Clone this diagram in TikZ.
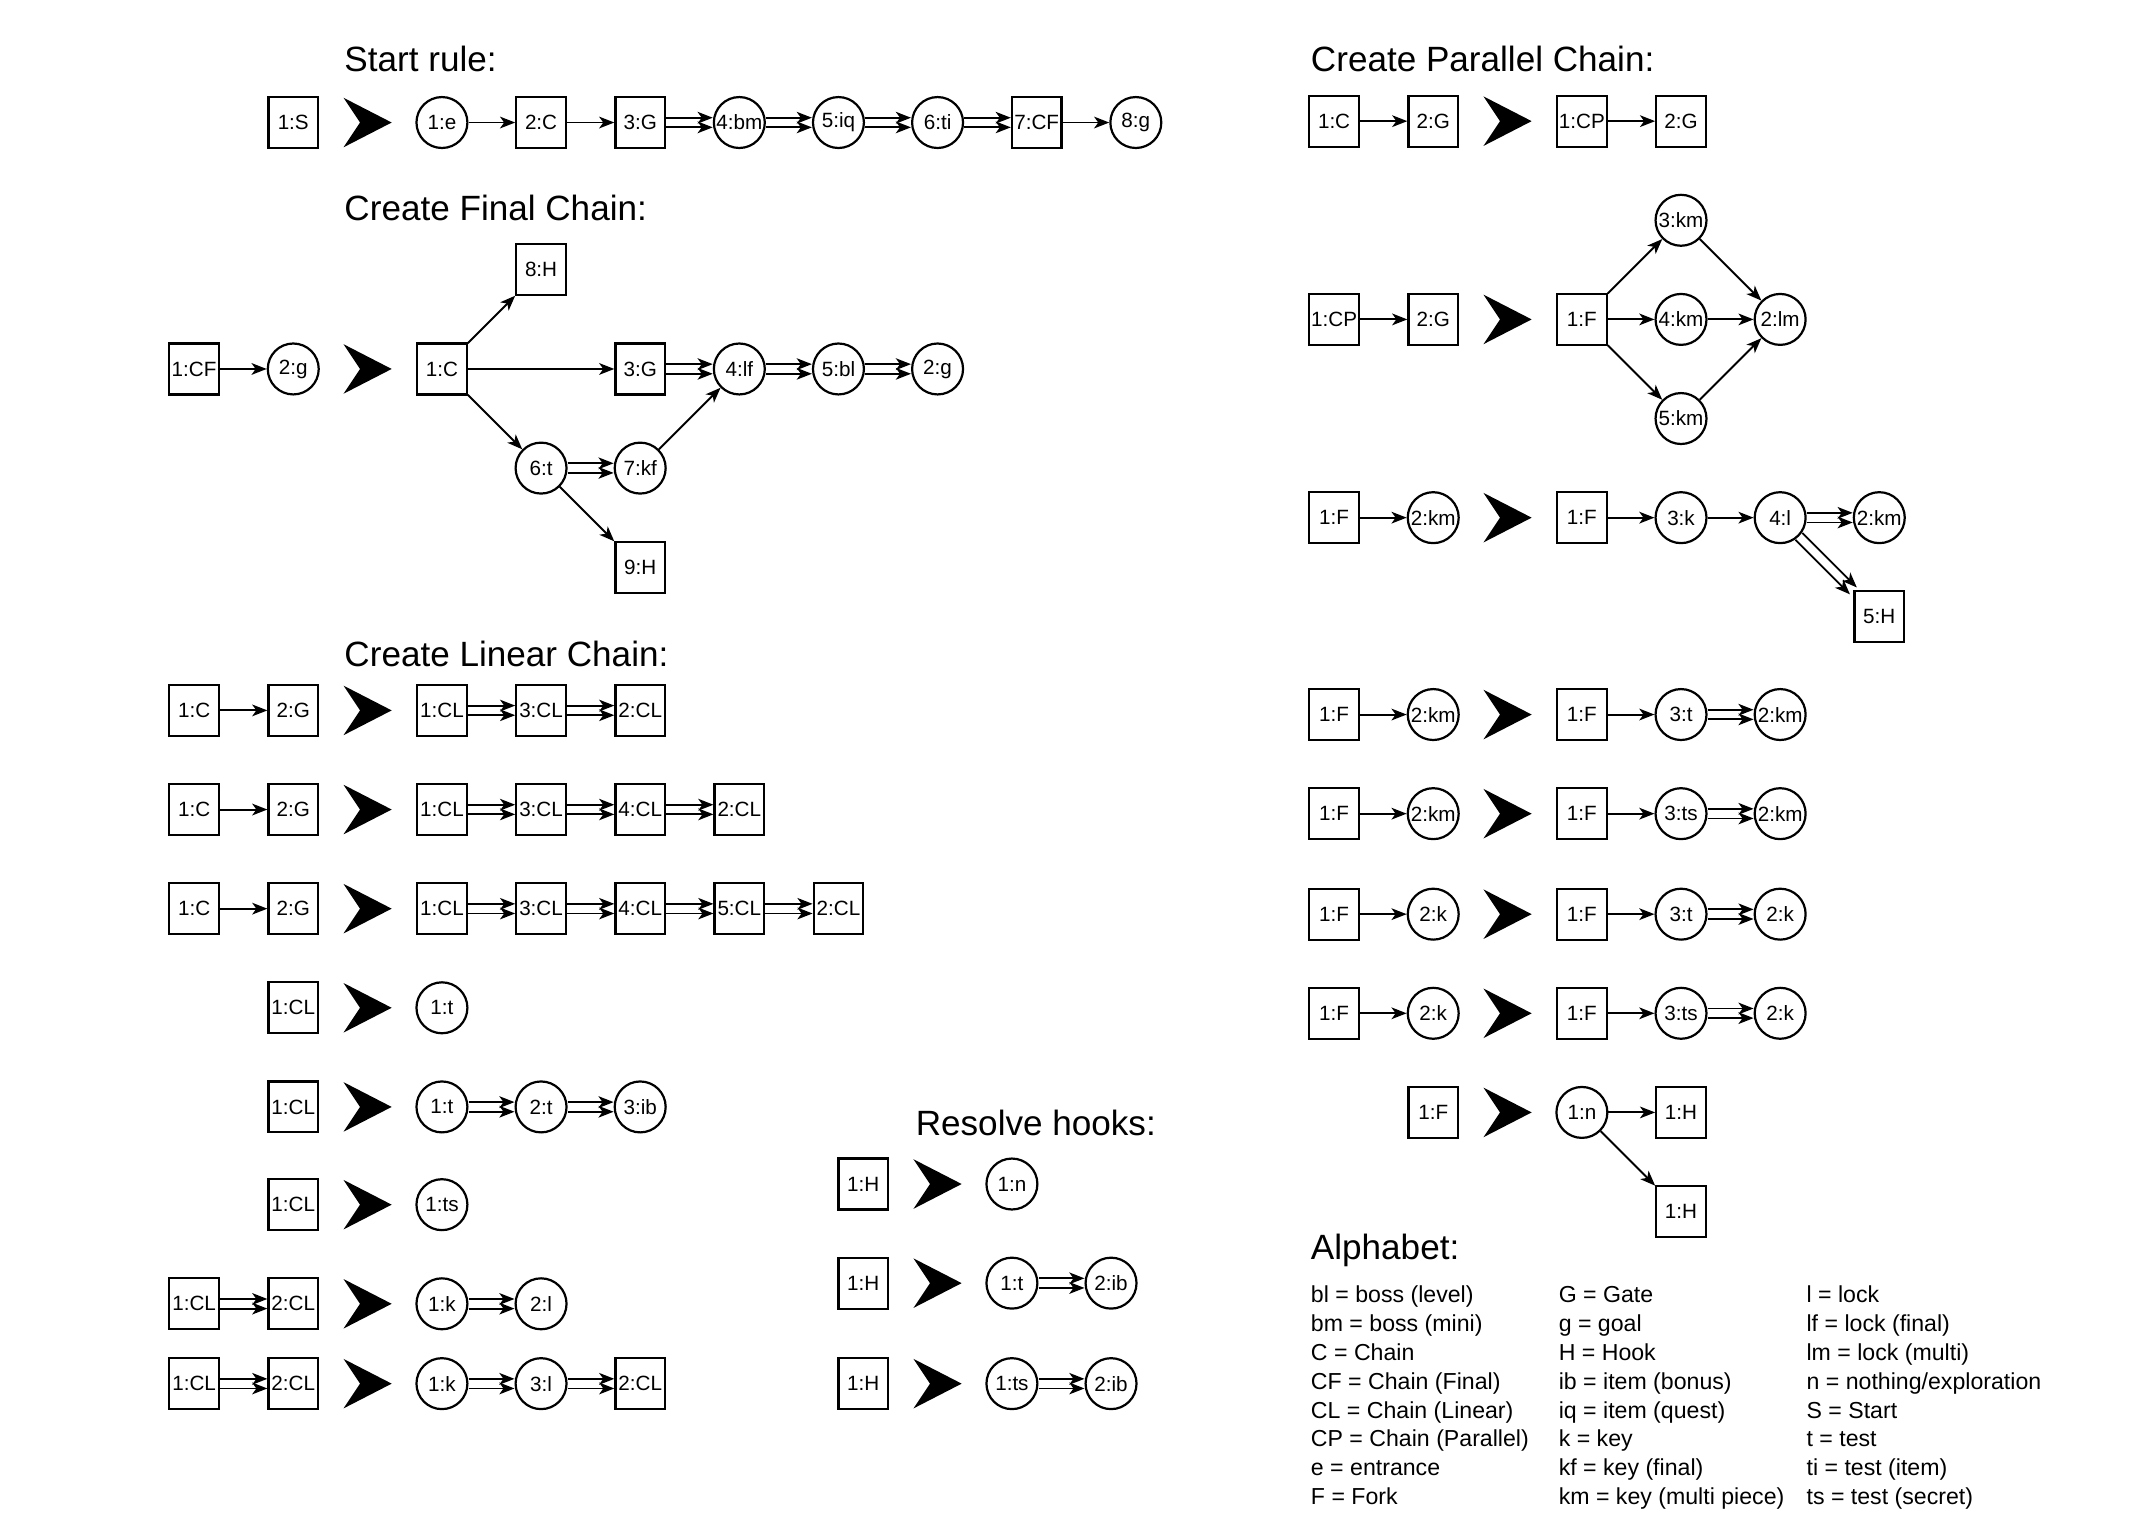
\documentclass[tikz,border=0pt]{standalone}
\usepackage{fontspec}
\setmainfont{Liberation Sans}
\usetikzlibrary{arrows.meta,calc}

% double connector: two parallel arrows
\newcommand{\twin}[2]{%
  \draw[link,transform canvas={yshift=3.5pt}] (#1) -- (#2);
  \draw[link,transform canvas={yshift=-3.5pt}] (#1) -- (#2);}

\begin{document}
\begin{tikzpicture}[x=1pt, y=-1pt,
  nonterm/.style={draw, line width=1.6pt, minimum width=36pt, minimum height=37pt, inner sep=0pt, font=\fontsize{15}{17}\selectfont},
  term/.style={draw, circle, line width=1.6pt, minimum size=37pt, inner sep=0pt, font=\fontsize{15}{17}\selectfont},
  link/.style={line width=1.4pt, -{Stealth[length=11pt,width=8.5pt,inset=3pt]}},
  heading/.style={anchor=base west, inner sep=0pt, font=\fontsize{25.5}{30}\selectfont},
  legend/.style={anchor=base west, inner sep=0pt, font=\fontsize{16.8}{20}\selectfont},
  rulearrow/.pic={\fill (-17.5,-18) -- (17.5,0) -- (-17.5,18) -- (-5.5,0) -- cycle;}]

\useasboundingbox[fill=white] (0,0) rectangle (1566,1104.8);

% Start rule
\node[heading] (StartTitle) at (250,52) {Start rule:};
\node[nonterm] (SrS) at (213,89) {1:S};
\pic at (267,89) {rulearrow};
\node[term] (Sre) at (321,89) {1:e};
\node[nonterm] (SrC) at (393,89) {2:C};
\node[nonterm] (SrG) at (465,89) {3:G};
\node[term] (Srbm) at (537,89) {4:bm};
\node[term] (Sriq) at (609,89) {5:iq};
\node[term] (Srti) at (681,89) {6:ti};
\node[nonterm] (SrCF) at (753,89) {7:CF};
\node[term] (Srg) at (825,89) {8:g};
\draw[link] (Sre) -- (SrC);
\draw[link] (SrC) -- (SrG);
\twin{SrG}{Srbm}
\twin{Srbm}{Sriq}
\twin{Sriq}{Srti}
\twin{Srti}{SrCF}
\draw[link] (SrCF) -- (Srg);

% Create final chain
\node[heading] (FinalTitle) at (250,160) {Create Final Chain:};
\node[nonterm] (FcCF) at (141,268) {1:CF};
\node[term] (Fcg) at (213,268) {2:g};
\draw[link] (FcCF) -- (Fcg);
\pic at (267,268) {rulearrow};
\node[nonterm] (FcC) at (321,268) {1:C};
\node[nonterm] (FcHa) at (393,196) {8:H};
\node[nonterm] (FcG) at (465,268) {3:G};
\node[term] (Fclf) at (537,268) {4:lf};
\node[term] (Fcbl) at (609,268) {5:bl};
\node[term] (Fcgb) at (681,268) {2:g};
\node[term] (Fct) at (393,340) {6:t};
\node[term] (Fckf) at (465,340) {7:kf};
\node[nonterm] (FcHb) at (465,412) {9:H};
\draw[link] (FcC) -- (FcHa);
\draw[link] (FcC) -- (FcG);
\draw[link] (FcC) -- (Fct);
\twin{FcG}{Fclf}
\twin{Fclf}{Fcbl}
\twin{Fcbl}{Fcgb}
\twin{Fct}{Fckf}
\draw[link] (Fckf) -- (Fclf);
\draw[link] (Fct) -- (FcHb);

% Create linear chain
\node[heading] (LinearTitle) at (250,484) {Create Linear Chain:};
\foreach \y/\r in {516/a,588/b,660/c} {
  \node[nonterm] (L\r C) at (141,\y) {1:C};
  \node[nonterm] (L\r G) at (213,\y) {2:G};
  \draw[link] (L\r C) -- (L\r G);
  \pic at (267,\y) {rulearrow};
  \node[nonterm] (L\r CLa) at (321,\y) {1:CL};
  \node[nonterm] (L\r CLb) at (393,\y) {3:CL};
  \twin{L\r CLa}{L\r CLb}
}
\node[nonterm] (LaCLc) at (465,516) {2:CL};
\twin{LaCLb}{LaCLc}
\node[nonterm] (LbCLc) at (465,588) {4:CL};
\node[nonterm] (LbCLd) at (537,588) {2:CL};
\twin{LbCLb}{LbCLc}
\twin{LbCLc}{LbCLd}
\node[nonterm] (LcCLc) at (465,660) {4:CL};
\node[nonterm] (LcCLd) at (537,660) {5:CL};
\node[nonterm] (LcCLe) at (609,660) {2:CL};
\twin{LcCLb}{LcCLc}
\twin{LcCLc}{LcCLd}
\twin{LcCLd}{LcCLe}

\node[nonterm] (LdCL) at (213,732) {1:CL};
\pic at (267,732) {rulearrow};
\node[term] (Ldt) at (321,732) {1:t};

\node[nonterm] (LeCL) at (213,804) {1:CL};
\pic at (267,804) {rulearrow};
\node[term] (Leta) at (321,804) {1:t};
\node[term] (Letb) at (393,804) {2:t};
\node[term] (Leib) at (465,804) {3:ib};
\twin{Leta}{Letb}
\twin{Letb}{Leib}

\node[nonterm] (LfCL) at (213,875) {1:CL};
\pic at (267,875) {rulearrow};
\node[term] (Lfts) at (321,875) {1:ts};

\node[nonterm] (LgCLa) at (141,947) {1:CL};
\node[nonterm] (LgCLb) at (213,947) {2:CL};
\twin{LgCLa}{LgCLb}
\pic at (267,947) {rulearrow};
\node[term] (Lgk) at (321,947) {1:k};
\node[term] (Lgl) at (393,947) {2:l};
\twin{Lgk}{Lgl}

\node[nonterm] (LhCLa) at (141,1005) {1:CL};
\node[nonterm] (LhCLb) at (213,1005) {2:CL};
\twin{LhCLa}{LhCLb}
\pic at (267,1005) {rulearrow};
\node[term] (Lhk) at (321,1005) {1:k};
\node[term] (Lhl) at (393,1005) {3:l};
\node[nonterm] (LhCLc) at (465,1005) {2:CL};
\twin{Lhk}{Lhl}
\twin{Lhl}{LhCLc}

% Resolve hooks
\node[heading] (HookTitle) at (665,825) {Resolve hooks:};
\node[nonterm] (RaH) at (627,860) {1:H};
\pic at (681,860) {rulearrow};
\node[term] (Ran) at (735,860) {1:n};
\node[nonterm] (RbH) at (627,932) {1:H};
\pic at (681,932) {rulearrow};
\node[term] (Rbt) at (735,932) {1:t};
\node[term] (Rbib) at (807,932) {2:ib};
\twin{Rbt}{Rbib}
\node[nonterm] (RcH) at (627,1005) {1:H};
\pic at (681,1005) {rulearrow};
\node[term] (Rcts) at (735,1005) {1:ts};
\node[term] (Rcib) at (807,1005) {2:ib};
\twin{Rcts}{Rcib}

% Create parallel chain
\node[heading] (ParallelTitle) at (952,52) {Create Parallel Chain:};
\node[nonterm] (PaC) at (969,88) {1:C};
\node[nonterm] (PaG) at (1041,88) {2:G};
\draw[link] (PaC) -- (PaG);
\pic at (1095,88) {rulearrow};
\node[nonterm] (PaCP) at (1149,88) {1:CP};
\node[nonterm] (PaGb) at (1221,88) {2:G};
\draw[link] (PaCP) -- (PaGb);

\node[nonterm] (PbCP) at (969,232) {1:CP};
\node[nonterm] (PbG) at (1041,232) {2:G};
\draw[link] (PbCP) -- (PbG);
\pic at (1095,232) {rulearrow};
\node[nonterm] (PbF) at (1149,232) {1:F};
\node[term] (Pbkma) at (1221,160) {3:km};
\node[term] (Pbkmb) at (1221,232) {4:km};
\node[term] (Pbkmc) at (1221,304) {5:km};
\node[term] (Pblm) at (1293,232) {2:lm};
\foreach \k in {a,b,c} {
  \draw[link] (PbF) -- (Pbkm\k);
  \draw[link] (Pbkm\k) -- (Pblm);
}

\node[nonterm] (PcF) at (969,376) {1:F};
\node[term] (Pckm) at (1041,376) {2:km};
\draw[link] (PcF) -- (Pckm);
\pic at (1095,376) {rulearrow};
\node[nonterm] (PcFb) at (1149,376) {1:F};
\node[term] (Pck) at (1221,376) {3:k};
\node[term] (Pcl) at (1293,376) {4:l};
\node[term] (Pckmb) at (1365,376) {2:km};
\node[nonterm] (PcH) at (1365,448) {5:H};
\draw[link] (PcFb) -- (Pck);
\draw[link] (Pck) -- (Pcl);
\twin{Pcl}{Pckmb}
\draw[link,transform canvas={shift={(2.5pt,2.5pt)}}] (Pcl) -- (PcH);
\draw[link,transform canvas={shift={(-2.5pt,-2.5pt)}}] (Pcl) -- (PcH);

\foreach \y/\a/\b [count=\i] in {519/km/t, 591/km/ts, 664/k/t, 736/k/ts} {
  \node[nonterm] (PdF\i) at (969,\y) {1:F};
  \node[term] (Pdx\i) at (1041,\y) {2:\a};
  \draw[link] (PdF\i) -- (Pdx\i);
  \pic at (1095,\y) {rulearrow};
  \node[nonterm] (PdG\i) at (1149,\y) {1:F};
  \node[term] (Pdt\i) at (1221,\y) {3:\b};
  \node[term] (Pdy\i) at (1293,\y) {2:\a};
  \draw[link] (PdG\i) -- (Pdt\i);
  \twin{Pdt\i}{Pdy\i}
}

\node[nonterm] (PhF) at (1041,808) {1:F};
\pic at (1095,808) {rulearrow};
\node[term] (Phn) at (1149,808) {1:n};
\node[nonterm] (PhHa) at (1221,808) {1:H};
\node[nonterm] (PhHb) at (1221,880) {1:H};
\draw[link] (Phn) -- (PhHa);
\draw[link] (Phn) -- (PhHb);

% Alphabet
\node[heading] (AlphaTitle) at (952,915) {Alphabet:};
\foreach \a/\b/\c [count=\i from 0] in {
  bl = boss (level)/G = Gate/l = lock,
  bm = boss (mini)/g = goal/lf = lock (final),
  C = Chain/H = Hook/lm = lock (multi),
  CF = Chain (Final)/ib = item (bonus)/{n = nothing/exploration},
  CL = Chain (Linear)/iq = item (quest)/S = Start,
  CP = Chain (Parallel)/k = key/t = test,
  e = entrance/kf = key (final)/ti = test (item),
  F = Fork/km = key (multi piece)/ts = test (secret)} {
  \node[legend] (LegA\i) at (952,{946+21*\i}) {\a};
  \node[legend] (LegB\i) at (1132,{946+21*\i}) {\b};
  \node[legend] (LegC\i) at (1312,{946+21*\i}) {\c};
}

\end{tikzpicture}
\end{document}
